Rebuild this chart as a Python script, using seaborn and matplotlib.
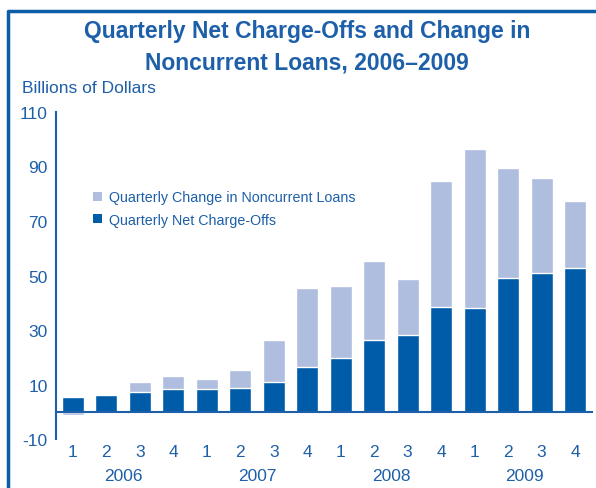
import pandas as pd
import numpy as np
import matplotlib.pyplot as plt
import seaborn as sns
from matplotlib.patches import Patch
from matplotlib.lines import Line2D

# values, billions of dollars
quarters = ["1", "2", "3", "4"] * 4
years = ["2006", "2007", "2008", "2009"]
net_charge_offs = [5.4, 6.1, 7.2, 8.3, 8.2, 8.9, 10.8, 16.3,
                   19.6, 26.2, 28.1, 38.4, 38.0, 49.0, 50.8, 52.6]
noncurrent_change = [-1.2, 0.6, 3.7, 5.0, 4.0, 6.6, 15.4, 29.0,
                     26.5, 29.1, 20.5, 46.2, 58.4, 40.5, 35.0, 24.6]
y_ticks = [-10, 10, 30, 50, 70, 90, 110]

DARK = "#005CA9"
LIGHT = "#AFBDDF"
TEXT = "#1D5FA8"

sns.set_style("white")
plt.rcParams["font.family"] = ["Liberation Sans Narrow", "Liberation Sans", "DejaVu Sans"]

df = pd.DataFrame({
    "pos": [str(i) for i in range(len(net_charge_offs))],
    "nco": net_charge_offs,
    "chg": noncurrent_change,
})
# light bar drawn first: stacked on top of charge-offs, or below zero if negative
df["light"] = np.where(df["chg"] > 0, df["nco"] + df["chg"], df["chg"])

fig = plt.figure(figsize=(5.96, 4.89), dpi=100)
ax = fig.add_axes([0.094, 0.100, 0.899, 0.669])

order = list(df["pos"])
sns.barplot(data=df, x="pos", y="light", order=order, color=LIGHT,
            saturation=1, width=0.66, ax=ax)
sns.barplot(data=df, x="pos", y="nco", order=order, color=DARK,
            saturation=1, width=0.66, ax=ax)

ax.set_xlim(-0.5, len(order) - 0.5)
ax.set_ylim(-10, 110)
ax.set_yticks(y_ticks)
ax.set_yticklabels([str(t) for t in y_ticks], fontsize=12.5, color=TEXT)
ax.set_xticks(np.arange(0.5, len(order), 1.0))
ax.set_xticklabels([])
ax.set_xlabel("")
ax.set_ylabel("")

for s in ["top", "right"]:
    ax.spines[s].set_visible(False)
ax.spines["bottom"].set_position(("data", 0))
ax.spines["left"].set_color(TEXT)
ax.spines["bottom"].set_color(TEXT)
ax.spines["left"].set_linewidth(1.5)
ax.spines["bottom"].set_linewidth(1.5)
ax.tick_params(axis="y", direction="out", length=5, width=1.2, color=TEXT, pad=1)

ax.tick_params(axis="x", direction="out", length=4, width=1.2, color=TEXT)

for i, q in enumerate(quarters):
    ax.text(i, -14.5, q, ha="center", va="center", fontsize=12.5,
            color=TEXT, clip_on=False)
for k, yr in enumerate(years):
    ax.text(4 * k + 1.5, -23.4, yr, ha="center", va="center", fontsize=12.5,
            color=TEXT, clip_on=False)

handles = [Patch(facecolor=LIGHT, edgecolor="none"),
           Patch(facecolor=DARK, edgecolor="none")]
labels = ["Quarterly Change in Noncurrent Loans", "Quarterly Net Charge-Offs"]
leg = ax.legend(handles, labels, loc="upper left", bbox_to_anchor=(0.045, 0.80),
                frameon=False, fontsize=10.3, handlelength=0.6, handleheight=0.6,
                handletextpad=0.5, labelspacing=0.6)
for t in leg.get_texts():
    t.set_color(TEXT)

fig.text(0.515, 0.935, "Quarterly Net Charge-Offs and Change in",
         ha="center", va="center", fontsize=16.5, fontweight="bold", color=TEXT)
fig.text(0.515, 0.872, "Noncurrent Loans, 2006\u20132009",
         ha="center", va="center", fontsize=16.5, fontweight="bold", color=TEXT)
fig.text(0.037, 0.820, "Billions of Dollars", ha="left", va="center",
         fontsize=12.5, color=TEXT)

# frame line on the left and top
fig.add_artist(Line2D([0.013, 0.013, 1.0], [0.0, 0.976, 0.976],
                      transform=fig.transFigure, color="#0B5DA8", linewidth=2.5))

fig.savefig("out.png", dpi=100)
